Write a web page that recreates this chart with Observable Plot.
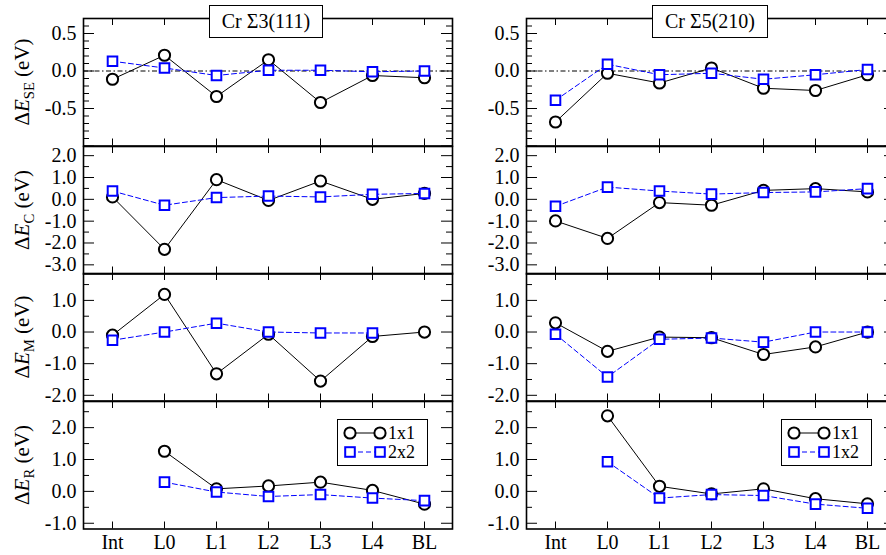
<!DOCTYPE html>
<html><head><meta charset="utf-8">
<script src="https://cdn.jsdelivr.net/npm/d3@7"></script>
<script src="https://cdn.jsdelivr.net/npm/@observablehq/plot@0.6"></script>
<style>
body{margin:0;background:#fff;}
#chart{position:relative;width:886px;height:555px;overflow:hidden;background:#fff;font-family:"Liberation Serif","Times New Roman",serif;color:#000;}
#chart svg.panel{position:absolute;overflow:visible;}
#chart svg text{font-family:"Liberation Serif","Times New Roman",serif;}
.ttl{position:absolute;background:#fff;border:1px solid #000;box-sizing:border-box;font-size:20px;text-align:center;line-height:30px;white-space:nowrap;font-family:"Liberation Serif",serif;}
.ylab{position:absolute;font-size:21px;white-space:nowrap;transform:translate(-50%,-50%) rotate(-90deg);font-family:"Liberation Serif",serif;}
.ylab sub{font-size:70%;vertical-align:-0.3em;}
.leg{position:absolute;background:#fff;border:1px solid #000;box-sizing:border-box;}
</style></head><body><div id="chart"></div>
<script>
const sites = ["Int","L0","L1","L2","L3","L4","BL"];
const titles = ["Cr Σ3(111)", "Cr Σ5(210)"];
const seriesNames = [["1x1","2x2"], ["1x1","1x2"]];
const rowSubs = ["SE","C","M","R"];
const yLabelsSE = [-0.5, 0, 0.5];
const yLabelsC = [-3, -2, -1, 0, 1, 2];
const yLabelsM = [-2, -1, 0, 1];
const yLabelsR = [-1, 0, 1, 2];

// ΔE_SE
const se_s3_1x1 = [-0.11, 0.21, -0.34, 0.15, -0.42, -0.06, -0.09];
const se_s3_2x2 = [0.13, 0.04, -0.06, 0.01, 0.01, -0.01, 0.0];
const se_s5_1x1 = [-0.68, -0.03, -0.16, 0.04, -0.23, -0.26, -0.05];
const se_s5_1x2 = [-0.39, 0.09, -0.05, -0.03, -0.11, -0.05, 0.02];
// ΔE_C
const c_s3_1x1 = [0.11, -2.29, 0.90, -0.05, 0.84, 0.0, 0.27];
const c_s3_2x2 = [0.38, -0.27, 0.08, 0.15, 0.11, 0.23, 0.27];
const c_s5_1x1 = [-0.99, -1.79, -0.15, -0.27, 0.41, 0.49, 0.34];
const c_s5_1x2 = [-0.32, 0.56, 0.38, 0.24, 0.31, 0.34, 0.49];
// ΔE_M
const m_s3_1x1 = [-0.10, 1.19, -1.32, -0.07, -1.55, -0.14, 0.0];
const m_s3_2x2 = [-0.26, 0.0, 0.28, 0.0, -0.03, -0.03, null];
const m_s5_1x1 = [0.29, -0.61, -0.16, -0.18, -0.71, -0.47, 0.0];
const m_s5_1x2 = [-0.07, -1.42, -0.23, -0.19, -0.32, 0.0, 0.0];
// ΔE_R
const r_s3_1x1 = [null, 1.26, 0.08, 0.17, 0.29, 0.03, -0.40];
const r_s3_2x2 = [null, 0.29, -0.02, -0.16, -0.10, -0.21, -0.29];
const r_s5_1x1 = [null, 2.37, 0.16, -0.08, 0.08, -0.23, -0.39];
const r_s5_1x2 = [null, 0.93, -0.21, -0.10, -0.13, -0.40, -0.53];

const rows = [
  {sub: "SE", domain: [-1.0, 0.7], labels: yLabelsSE, minor: 0.1, majorStep: 0.5, zero: true,
   data: [[se_s3_1x1, se_s3_2x2], [se_s5_1x1, se_s5_1x2]]},
  {sub: "C", domain: [-3.42, 2.42], labels: yLabelsC, minor: 0.5, majorStep: 1,
   data: [[c_s3_1x1, c_s3_2x2], [c_s5_1x1, c_s5_1x2]]},
  {sub: "M", domain: [-2.18, 1.85], labels: yLabelsM, minor: 0.5, majorStep: 1,
   data: [[m_s3_1x1, m_s3_2x2], [m_s5_1x1, m_s5_1x2]]},
  {sub: "R", domain: [-1.18, 2.82], labels: yLabelsR, minor: 0.5, majorStep: 1,
   data: [[r_s3_1x1, r_s3_2x2], [r_s5_1x1, r_s5_1x2]]}
];

const chart = document.getElementById("chart");
const W = 369, H = 127.5;
const colX = [82.7, 526];
const rowY = r => 18.3 + r * H;
const BLUE = "#0000ff";
const SERIF = "Liberation Serif, Times New Roman, serif";

function panel(row, col, r) {
  const recs = arr => sites.map((s, i) => ({site: s, v: arr[i]}));
  const a = recs(row.data[col][0]), b = recs(row.data[col][1]);
  const step = row.minor;
  const all = d3.range(Math.ceil(row.domain[0] / step - 1e-9), Math.floor(row.domain[1] / step + 1e-9) + 1)
    .map(i => +(i * step).toFixed(4));
  const isMajor = v => Math.abs(v / row.majorStep - Math.round(v / row.majorStep)) < 1e-6;
  const major = all.filter(isMajor), minor = all.filter(v => !isMajor(v));
  const marks = [];
  if (row.zero) marks.push(Plot.ruleY([0], {stroke: "black", strokeWidth: 1, strokeDasharray: "5,2.5,1.5,2.5"}));
  marks.push(
    Plot.tickY(major, {y: d => d, insetRight: W - 11, stroke: "black", strokeWidth: 1}),
    Plot.tickY(major, {y: d => d, insetLeft: W - 11, stroke: "black", strokeWidth: 1}),
    Plot.tickY(minor, {y: d => d, insetRight: W - 6, stroke: "black", strokeWidth: 1}),
    Plot.tickY(minor, {y: d => d, insetLeft: W - 6, stroke: "black", strokeWidth: 1}),
    Plot.tickX(sites, {x: d => d, insetBottom: H - 7, stroke: "black", strokeWidth: 1}),
    Plot.tickX(sites, {x: d => d, insetTop: H - 7, stroke: "black", strokeWidth: 1}),
    Plot.axisY(row.labels, {tickSize: 0, tickPadding: 7, label: null, tickFormat: d => d.toFixed(1),
      fontSize: 20, fontFamily: SERIF, fill: "black"}),
    Plot.line(a, {x: "site", y: "v", stroke: "black", strokeWidth: 1}),
    Plot.dot(a, {x: "site", y: "v", r: 5.6, stroke: "black", strokeWidth: 2, fill: "white"}),
    Plot.line(b, {x: "site", y: "v", stroke: BLUE, strokeWidth: 1, strokeDasharray: "5,3"}),
    Plot.dot(b, {x: "site", y: "v", symbol: "square", r: 5.4, stroke: BLUE, strokeWidth: 2, fill: "white"}),
    Plot.frame({stroke: "black", strokeWidth: 1.6})
  );
  if (r === 3) marks.push(Plot.axisX({tickSize: 0, tickPadding: 6, label: null, fontSize: 20, fontFamily: SERIF, fill: "black"}));
  const svg = Plot.plot({
    width: W, height: H,
    marginTop: 0, marginBottom: 0, marginLeft: 0, marginRight: 0,
    x: {type: "point", domain: sites, padding: 0.5, axis: r === 3 ? undefined : null, label: null},
    y: {domain: row.domain, label: null},
    style: {background: "none", overflow: "visible", fontFamily: SERIF, fontSize: "20px", color: "black"},
    marks
  });
  svg.classList.add("panel");
  svg.setAttribute("font-family", SERIF);
  svg.style.fontFamily = SERIF;
  svg.style.left = colX[col] + "px";
  svg.style.top = rowY(r) + "px";
  chart.appendChild(svg);
}

rows.forEach((row, r) => { panel(row, 0, r); panel(row, 1, r); });

// y labels
rows.forEach((row, r) => {
  const d = document.createElement("div");
  d.className = "ylab";
  d.style.left = "24px";
  d.style.top = (rowY(r) + H / 2) + "px";
  d.innerHTML = `Δ<i>E</i><sub>${row.sub}</sub> (eV)`;
  chart.appendChild(d);
});

// titles
const titleBoxes = [[209, 114], [652, 116]];
titles.forEach((t, i) => {
  const d = document.createElement("div");
  d.className = "ttl";
  d.style.left = titleBoxes[i][0] + "px";
  d.style.top = "5px";
  d.style.width = titleBoxes[i][1] + "px";
  d.style.height = "33px";
  d.textContent = t;
  chart.appendChild(d);
});

// legends
const legX = [337, 781];
seriesNames.forEach((names, i) => {
  const d = document.createElement("div");
  d.className = "leg";
  d.style.left = legX[i] + "px";
  d.style.top = "419px";
  d.style.width = "91px";
  d.style.height = "47px";
  chart.appendChild(d);
  const s = d3.select(d).append("svg").attr("width", 89).attr("height", 45).style("display", "block");
  const rowsY = [13, 32];
  s.append("line").attr("x1", 12).attr("x2", 42).attr("y1", rowsY[0]).attr("y2", rowsY[0]).attr("stroke", "black");
  [12, 42].forEach(x => s.append("circle").attr("cx", x).attr("cy", rowsY[0]).attr("r", 5.6).attr("fill", "white").attr("stroke", "black").attr("stroke-width", 2));
  s.append("line").attr("x1", 12).attr("x2", 42).attr("y1", rowsY[1]).attr("y2", rowsY[1]).attr("stroke", BLUE).attr("stroke-dasharray", "5,3");
  [12, 42].forEach(x => s.append("rect").attr("x", x - 4.8).attr("y", rowsY[1] - 4.8).attr("width", 9.6).attr("height", 9.6).attr("fill", "white").attr("stroke", BLUE).attr("stroke-width", 2));
  names.forEach((n, k) => s.append("text").attr("x", 50).attr("y", rowsY[k]).attr("dy", "0.35em")
    .attr("font-size", 18).attr("font-family", SERIF).text(n));
});
</script></body></html>
